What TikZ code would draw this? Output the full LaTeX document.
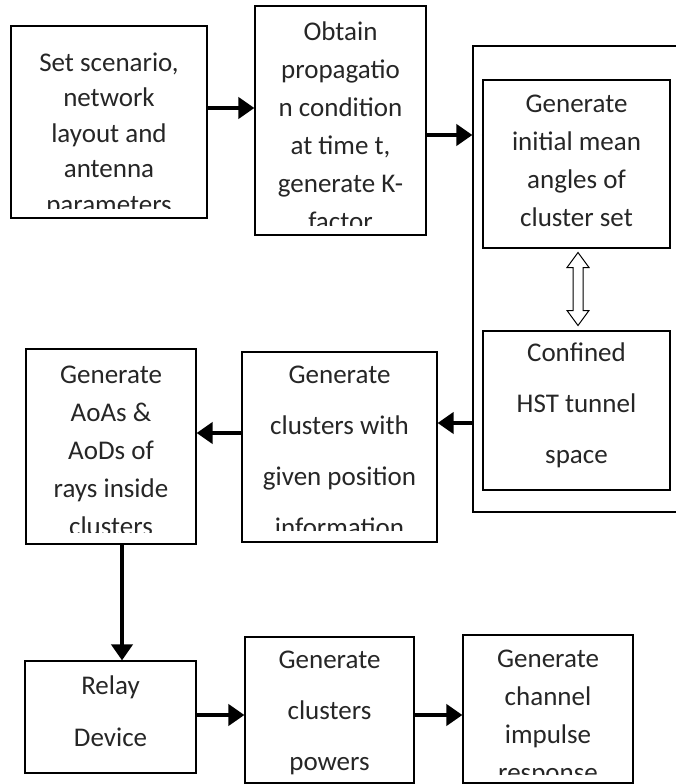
\documentclass[tikz,border=0pt]{standalone}
\usepackage{fontspec}
\setmainfont{Carlito}
\usetikzlibrary{arrows.meta,positioning,calc}

\begin{document}
\begin{tikzpicture}[x=1pt,y=-1pt]

\tikzset{stepbox/.style = {shape=rectangle,draw,line width=1.2pt,inner sep=0pt}}
\tikzset{steptext/.style = {align=center,inner sep=0pt,text=black!85,font=\fontsize{27}{38}\selectfont}}
\tikzset{looseline/.style = {font=\fontsize{27}{51}\selectfont}}
\tikzset{flow/.style = {line width=4.5pt,-{Triangle[length=16pt,width=21pt]}}}
\tikzset{twoway/.style = {line width=1pt,fill=white,line join=miter}}

\useasboundingbox (0,0) rectangle (675,784);

% boxes
\node[stepbox,minimum width=196pt,minimum height=192pt] (setup) at (109,122) {};
\node[stepbox,minimum width=171pt,minimum height=229pt] (obtain) at (340.5,120.5) {};
\node[stepbox,minimum width=205pt,minimum height=466pt] (tunnel) at (575.5,279) {};
\node[stepbox,minimum width=187pt,minimum height=168pt] (mean) at (576.5,164) {};
\node[stepbox,minimum width=187pt,minimum height=159pt] (confined) at (576.5,410.5) {};
\node[stepbox,minimum width=195pt,minimum height=190pt] (position) at (339.5,447) {};
\node[stepbox,minimum width=170pt,minimum height=195pt] (rays) at (111,446.5) {};
\node[stepbox,minimum width=171pt,minimum height=112pt] (relay) at (110.5,717) {};
\node[stepbox,minimum width=169pt,minimum height=146pt] (powers) at (329.5,710) {};
\node[stepbox,minimum width=170pt,minimum height=148pt] (impulse) at (548,709) {};

% texts
\begin{scope}
  \clip ([yshift=10pt]setup.south west) rectangle (setup.north east);
  \node[steptext,font=\fontsize{27}{35.5}\selectfont,below=27pt of setup.north] (setuptext)
    {Set scenario,\\network\\layout and\\antenna\\parameters};
\end{scope}
\begin{scope}
  \clip ([yshift=10pt]obtain.south west) rectangle (obtain.north east);
  \node[steptext,below=16pt of obtain.north] (obtaintext)
    {Obtain\\propagatio\\n condition\\at time t,\\generate K-\\factor};
\end{scope}
\node[steptext,below=15pt of mean.north] (meantext)
  {Generate\\initial mean\\angles of\\cluster set};
\node[steptext,looseline,below=12pt of confined.north] (confinedtext)
  {Confined\\HST tunnel\\space};
\begin{scope}
  \clip ([yshift=12pt]position.south west) rectangle (position.north east);
  \node[steptext,looseline,below=14pt of position.north] (positiontext)
    {Generate\\clusters with\\given position\\information};
\end{scope}
\begin{scope}
  \clip ([yshift=12pt]rays.south west) rectangle (rays.north east);
  \node[steptext,below=17pt of rays.north] (raystext)
    {Generate\\AoAs \&\\AoDs of\\rays inside\\clusters};
\end{scope}
\node[steptext,font=\fontsize{27}{52}\selectfont,below=15pt of relay.north] (relaytext)
  {Relay\\Device};
\node[steptext,looseline,below=14pt of powers.north] (powerstext)
  {Generate\\clusters\\powers};
\begin{scope}
  \clip ([yshift=9pt]impulse.south west) rectangle (impulse.north east);
  \node[steptext,below=15pt of impulse.north] (impulsetext)
    {Generate\\channel\\impulse\\response};
\end{scope}

% arrows
\draw[flow] ([yshift=14pt]setup.east) -- ([yshift=14pt]setup.east -| obtain.west);
\draw[flow] ([yshift=-14.5pt]obtain.east) -- ([yshift=-14.5pt]obtain.east -| tunnel.west);
\draw[flow] ([yshift=24pt]position.east -| tunnel.west) -- ([yshift=24pt]position.east);
\draw[flow] ([yshift=14pt]position.west) -- ([yshift=14pt]position.west -| rays.east);
\draw[flow] ([xshift=11pt]rays.south) -- ([xshift=11pt]rays.south |- relay.north);
\draw[flow] ([yshift=2pt]relay.east) -- ([yshift=2pt]relay.east -| powers.west);
\draw[flow] ([yshift=-5pt]powers.east) -- ([yshift=-5pt]powers.east -| impulse.west);

% hollow double arrow
\coordinate (link) at ($(mean.south)!0.5!(confined.north)$);
\draw[twoway] ([xshift=1.5pt,yshift=37pt]link) -- ++(11,15) -- ++(-6,0) -- ++(0,43) -- ++(6,0)
  -- ++(-11,15) -- ++(-11,-15) -- ++(6,0) -- ++(0,-43) -- ++(-6,0) -- cycle;
\end{tikzpicture}
\end{document}
